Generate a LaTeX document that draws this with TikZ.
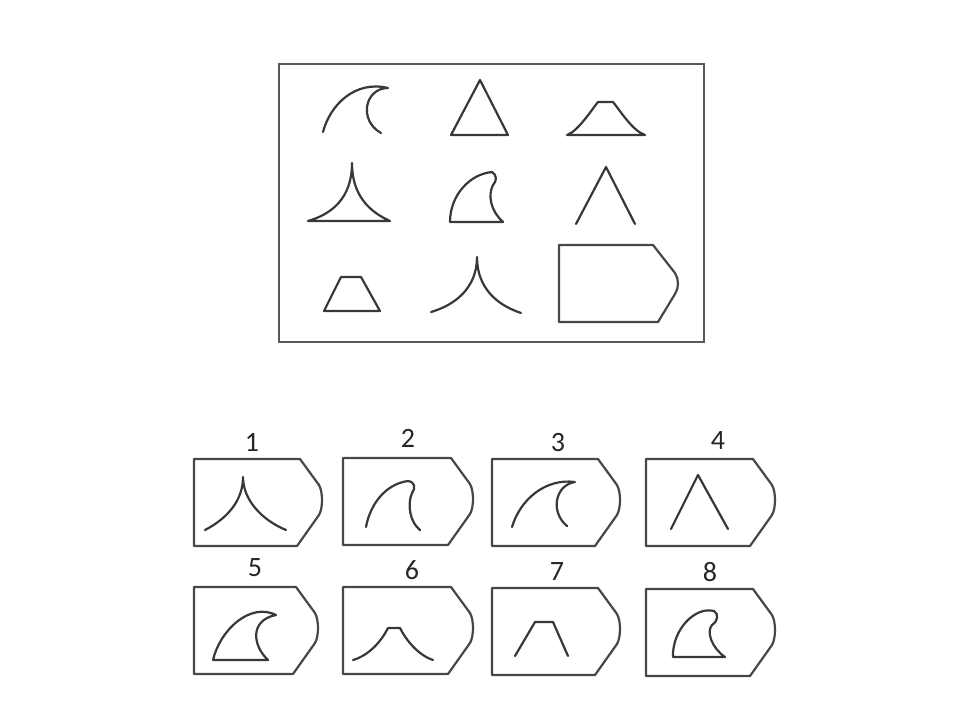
\documentclass[tikz,border=0pt]{standalone}
\usepackage{fontspec}
\setmainfont{Carlito}
\usepackage{tikz}
\usetikzlibrary{positioning}
\tikzset{
  fig/.style    ={draw=black!78,line width=1.1pt,line join=round,line cap=round},
  panel/.style  ={draw=black!65,line width=1pt},
  tagbox/.style ={draw=black!72,line width=1.1pt,line join=round},
  num/.style    ={font=\fontsize{14}{16}\selectfont,text=black!85,inner sep=0pt},
}

\begin{document}
\begin{tikzpicture}[x=0.5pt,y=-0.5pt]
\useasboundingbox (0,0) rectangle (960,720);

%% ---------------- question panel ----------------
\draw[panel] (279,64) rectangle (704,342);

%% row 1: wave, triangle, wide trapezoid
\draw[fig] (323,132) .. controls (330,105) and (355,80) .. (388,88)
           .. controls (365,88) and (358,120) .. (381,133);
\draw[fig] (480,80) -- (508,135) -- (451,135) -- cycle;
\draw[fig] (567,135) .. controls (578,131) and (590,112) .. (598,102) -- (613,102)
           .. controls (621,112) and (633,131) .. (645,135) -- cycle;

%% row 2: curved triangle, fin, lambda
\draw[fig] (352,163) .. controls (352,198) and (332,214) .. (308,221) -- (390,221)
           .. controls (370,212) and (352,196) .. (352,163);
\draw[fig] (450,222) -- (503,222) .. controls (490,210) and (488,195) .. (493,185)
           .. controls (497,181) and (497,175) .. (492,172)
           .. controls (470,174) and (450,195) .. (450,222);
\draw[fig] (576,224) -- (606,167) -- (635,224);

%% row 3: small trapezoid, cusp, empty tag
\draw[fig] (324,311) -- (341,277) -- (361,277) -- (380,311) -- cycle;
\draw[fig] (431,312) .. controls (455,305) and (477,288) .. (477,257)
           .. controls (477,288) and (497,305) .. (521,313);
\draw[tagbox] (559,245) -- (653,245) -- (675,273) .. controls (679,279) and (679,288) .. (675,294)
              -- (658,322) -- (559,322) -- cycle;

%% ---------------- answer tags ----------------
\foreach \n/\l/\t/\w/\lx/\ly in {1/194/459/128/252/442, 2/343/458/130/408/438,
                                 3/492/459/128/558/442, 4/646/459/129/718/440,
                                 5/194/587/124/255/568, 6/343/587/130/412/570,
                                 7/492/588/128/557/572, 8/646/589/129/710/572}{
  \coordinate (box\n) at (\l,\t);
  \draw[tagbox] (box\n) -- ({\l+\w-22},\t) -- ({\l+\w-3},{\t+26})
     .. controls ({\l+\w+1},{\t+33}) and ({\l+\w+1},{\t+49}) .. ({\l+\w-3},{\t+56})
     -- ({\l+\w-25},{\t+87}) -- (\l,{\t+87}) -- cycle;
  \node[num] (lab\n) at (\lx,\ly) {\n};
}

%% answer figures
\draw[fig] (205,530) .. controls (228,518) and (243,500) .. (243,477)
           .. controls (243,500) and (262,520) .. (286,530);
\draw[fig] (366,527) .. controls (370,505) and (385,484) .. (408,481)
           .. controls (415,482) and (416,488) .. (412,493)
           .. controls (407,505) and (410,522) .. (420,530);
\draw[fig] (512,527) .. controls (520,500) and (545,478) .. (575,482)
           .. controls (555,485) and (550,512) .. (567,526);
\draw[fig] (671,529) -- (698,475) -- (728,529);
\draw[fig] (213,660) -- (268,660) .. controls (252,645) and (250,620) .. (276,615)
           .. controls (250,602) and (220,630) .. (213,660);
\draw[fig] (353,660) .. controls (370,655) and (382,640) .. (388,628) -- (400,628)
           .. controls (406,640) and (418,655) .. (433,660);
\draw[fig] (515,656) -- (535,622) -- (553,622) -- (568,656);
\draw[fig] (673,657) -- (725,657) .. controls (712,648) and (706,632) .. (712,625)
           .. controls (718,621) and (719,614) .. (714,611)
           .. controls (695,606) and (672,630) .. (673,657);

\end{tikzpicture}
\end{document}
